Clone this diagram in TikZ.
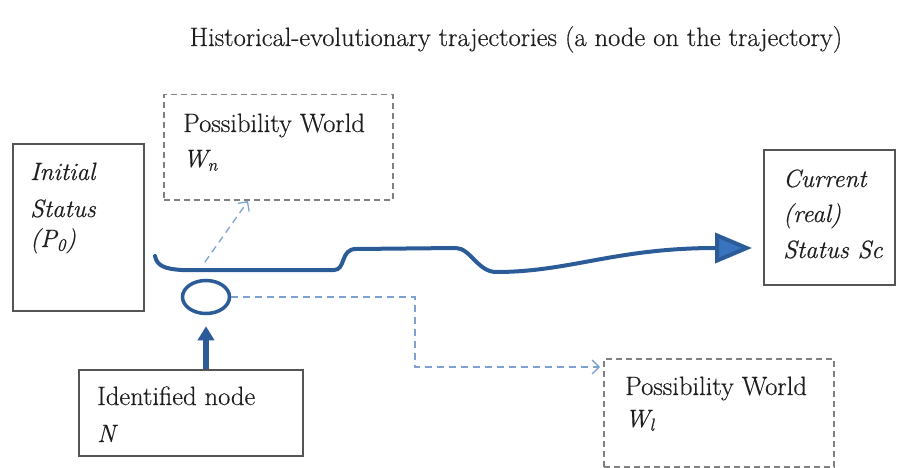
\documentclass[tikz,border=0pt]{standalone}
\usepackage{fontspec}
\setmainfont{Latin Modern Roman}[FakeBold=0.4]
\usetikzlibrary{arrows.meta,shapes.geometric}
\definecolor{trajblue}{HTML}{2B5C98}
\definecolor{headblue}{HTML}{3A73BD}
\definecolor{lightblue}{HTML}{7EA2CF}
\definecolor{boxgray}{HTML}{555555}
\definecolor{dashgray}{HTML}{808080}
\definecolor{inkgray}{HTML}{1E1E1E}
\tikzset{
  solidbox/.style={draw=boxgray, line width=1.5pt, anchor=north west, inner sep=0pt},
  dashbox/.style={draw=dashgray, line width=1.5pt, dash pattern=on 6pt off 4pt, anchor=north west, inner sep=0pt},
  txt/.style={anchor=base west, inner sep=0pt, text=inkgray, font=\fontsize{26.5}{30}\selectfont},
  itxt/.style={txt, font=\fontsize{25}{30}\selectfont\itshape},
  trajectory/.style={draw=trajblue, line width=4pt, line cap=round},
  branch/.style={draw=lightblue, line width=1.3pt, dash pattern=on 7pt off 5pt},
  openhead/.style={-{Straight Barb[length=7pt,width=14pt,line width=1.3pt]}},
}
\begin{document}
\begin{tikzpicture}[x=1pt,y=-1pt]
\useasboundingbox (0,0) rectangle (899,468);

% title
\node[anchor=base, inner sep=0pt, text=inkgray, font=\fontsize{26.5}{30}\selectfont] (title) at (516,46)
  {Historical-evolutionary trajectories (a node on the trajectory)};

% boxes
\node[solidbox, minimum width=131pt, minimum height=167pt] (init) at (12,143) {};
\node[dashbox, minimum width=229pt, minimum height=105pt] (wn) at (163,94) {};
\node[solidbox, minimum width=131pt, minimum height=135pt] (cur) at (763,149) {};
\node[solidbox, minimum width=224pt, minimum height=86pt] (ident) at (78,369) {};
\node[dashbox, minimum width=230pt, minimum height=108pt] (wl) at (603,358) {};

% box texts
\node[itxt] (init1) at (30,180) {Initial};
\node[itxt] (init2) at (30,217) {Status};
\node[itxt] (init3) at (30,247) {(P\textsubscript{0})};
\node[txt] (wn1) at (183,132) {Possibility World};
\node[itxt] (wn2) at (183,167) {W\textsubscript{n}};
\node[itxt] (cur1) at (783,187) {Current};
\node[itxt] (cur2) at (783,222) {(real)};
\node[itxt] (cur3) at (783,258) {Status Sc};
\node[txt] (id1) at (97,405) {Identified node};
\node[itxt] (id2) at (97,442) {N};
\node[txt] (wl1) at (625,395) {Possibility World};
\node[itxt] (wl2) at (625,427) {W\textsubscript{l}};

% the trajectory
\coordinate (tstart) at (155,256);
\coordinate (tend) at (752,248);
\draw[trajectory, -{Triangle[length=37pt,width=30pt,fill=headblue]}]
  (tstart) .. controls (157,266) and (165,269) .. (182,270)
  -- (334,270) .. controls (346,270) and (340,249) .. (356,249)
  -- (456,248) .. controls (470,248) and (478,272) .. (496,272)
  .. controls (570,272) and (615,248) .. (tend);

% the node on the trajectory
\node[draw=trajblue, line width=3.5pt, ellipse, minimum width=47pt, minimum height=33pt, inner sep=0pt] (circ) at (206,297) {};

% identified node pointing at the circle
\draw[draw=trajblue, line width=6pt, -{Triangle[length=14pt,width=16pt]}, shorten >=11pt]
  (ident.north -| circ.south) -- (circ.south);

% possibility branches
\coordinate (branchfrom) at (205,262);
\coordinate (wnin) at (248,201);
\draw[branch, openhead] (branchfrom) -- (wnin);
\coordinate (bend) at (415,367);
\coordinate (wlin) at (600,367);
\draw[branch, openhead] (circ.east) -| (bend) -- (wlin);
\end{tikzpicture}
\end{document}
